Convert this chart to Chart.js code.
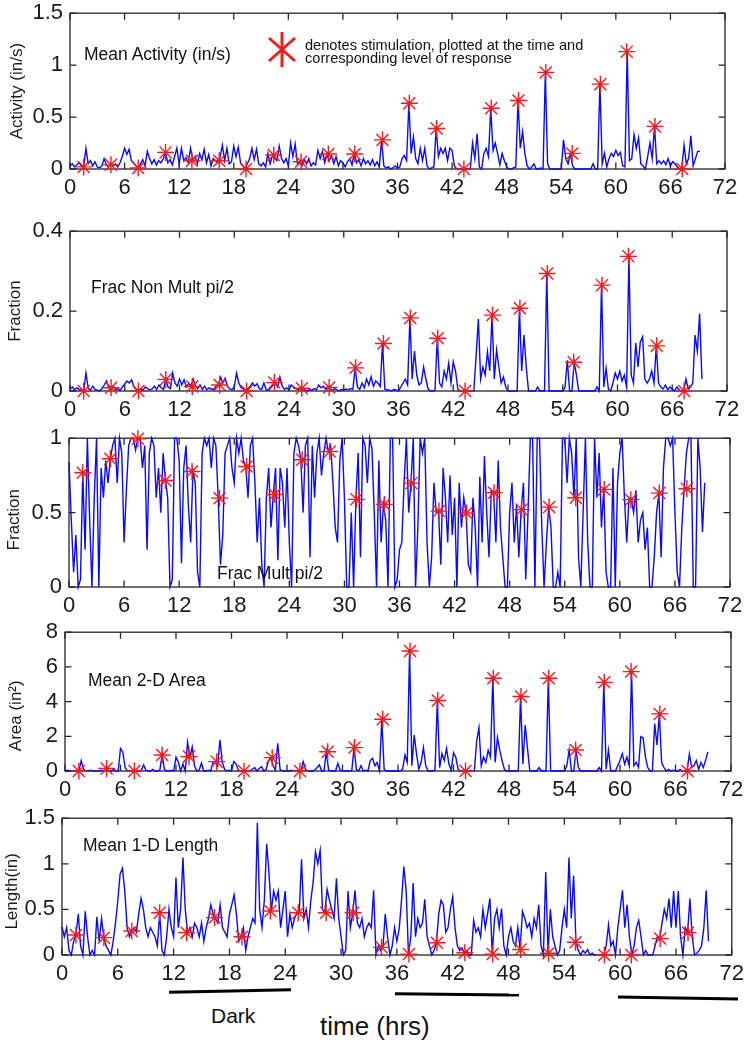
<!DOCTYPE html>
<html>
<head>
<meta charset="utf-8">
<title>Response to stimulation over time</title>
<script src="https://cdn.jsdelivr.net/npm/chart.js@4.4.1/dist/chart.umd.min.js"></script>
<style>
  html, body { margin:0; padding:0; background:#fff; }
  #wrap { position:relative; width:750px; height:1043px; overflow:hidden; background:#fff;
          font-family:'Liberation Sans', Arial, Helvetica, sans-serif; color:#111; }
  #wrap canvas { position:absolute; left:0; z-index:1; }
  .note { position:absolute; white-space:nowrap; line-height:1; z-index:2; }
  #over { position:absolute; left:0; top:0; z-index:3; }
</style>
</head>
<body>
<div id="wrap">
  <div class="note" style="left:84px;top:45.5px;font-size:17.5px;">Mean Activity (in/s)</div>
  <div class="note" style="left:305px;top:38.5px;font-size:14.6px;line-height:13.5px;">denotes stimulation, plotted at the time and<br>corresponding level of response</div>
  <div class="note" style="left:91px;top:279px;font-size:17.5px;">Frac Non Mult pi/2</div>
  <div class="note" style="left:217px;top:565px;font-size:17.5px;">Frac Mult pi/2</div>
  <div class="note" style="left:88px;top:672px;font-size:17.5px;">Mean 2-D Area</div>
  <div class="note" style="left:83px;top:837px;font-size:17.5px;">Mean 1-D Length</div>
  <div class="note" style="left:211px;top:1005px;font-size:21px;">Dark</div>
  <div class="note" style="left:320px;top:1012.5px;font-size:26px;">time (hrs)</div>
  <svg id="over" width="750" height="1043">
    <g stroke="#f21c1c" stroke-width="3">
      <line x1="282" y1="32" x2="282" y2="67"/>
      <line x1="269" y1="38" x2="295" y2="61"/>
      <line x1="269" y1="61" x2="295" y2="38"/>
    </g>
    <g stroke="#000" stroke-width="3">
      <line x1="169" y1="992.3" x2="291" y2="989.7"/>
      <line x1="395" y1="993.7" x2="519" y2="995"/>
      <line x1="618" y1="997" x2="738" y2="999"/>
    </g>
  </svg>
</div>
<script>
// ---------------- DATA ----------------
const hoursPerSample = 0.25;           // sampling interval of the recorded series
const xMax = 72, xTickStep = 6;        // time axis (hrs)

// times of stimulation (hrs)
const stimTimes = [1.5, 4.5, 7.5, 10.5, 13.4, 16.4, 19.35, 22.4, 25.4, 28.4, 31.3, 34.35,
                   37.3, 40.3, 43.3, 46.3, 49.3, 52.3, 55.2, 58.3, 61.2, 64.3, 67.3];

// response level at each stimulation
const stimActivity    = [0.02, 0.04, 0.01, 0.16, 0.08, 0.08, 0.0, 0.135, 0.07, 0.145, 0.145, 0.28,
                         0.633, 0.39, 0.0, 0.585, 0.66, 0.93, 0.15, 0.817, 1.13, 0.41, 0.0];
const stimFracNonMult = [0, 0.008, 0, 0.029, 0.011, 0.015, 0, 0.021, 0.007, 0.009, 0.058, 0.119,
                         0.183, 0.132, 0.0, 0.19, 0.207, 0.294, 0.072, 0.265, 0.337, 0.113, 0];
const stimFracMult    = [0.768, 0.862, 0.996, 0.716, 0.776, 0.597, 0.81, 0.622, 0.855, 0.911, 0.589, 0.555,
                         0.698, 0.51, 0.497, 0.634, 0.52, 0.537, 0.6, 0.656, 0.587, 0.631, 0.66];
const stimArea        = [0, 0.15, 0, 0.92, 0.83, 0.54, 0, 0.77, 0, 1.11, 1.35, 2.98,
                         6.92, 4.06, 0, 5.35, 4.29, 5.35, 1.21, 5.11, 5.73, 3.29, 0];
const stimLength      = [0.22, 0.19, 0.263, 0.464, 0.245, 0.41, 0.2, 0.483, 0.464, 0.464, 0.464, 0.084,
                         0.01, 0.135, 0.025, 0.01, 0.06, 0.02, 0.14, 0.0, 0.0, 0.18, 0.245];

// Mean Activity (in/s), one value every 15 min from t = 0
const activity = [
 0.03,0.05,0.02,0.04, 0.06,0.03,0.02,0.20, 0.05,0.08,0.03,0.07, 0.02,0.01,0.03,0.10,
 0.04,0.02,0.04,0.03, 0.05,0.02,0.06,0.12, 0.20,0.14,0.19,0.08, 0.06,0.03,0.01,0.05,
 0.09,0.03,0.17,0.10, 0.05,0.09,0.04,0.08, 0.06,0.10,0.16,0.06, 0.09,0.04,0.12,0.20,
 0.05,0.20,0.08,0.11, 0.06,0.20,0.08,0.12, 0.05,0.15,0.09,0.19, 0.06,0.14,0.03,0.10,
 0.08,0.06,0.12,0.23, 0.08,0.20,0.05,0.07, 0.22,0.12,0.21,0.06, 0.03,0.00,0.05,0.10,
 0.20,0.09,0.19,0.05, 0.03,0.06,0.02,0.15, 0.05,0.13,0.10,0.08, 0.22,0.10,0.06,0.10,
 0.03,0.25,0.12,0.24, 0.05,0.07,0.03,0.09, 0.05,0.10,0.03,0.06, 0.04,0.18,0.10,0.17,
 0.06,0.14,0.08,0.13, 0.05,0.12,0.03,0.08, 0.06,0.02,0.07,0.10, 0.04,0.15,0.06,0.09,
 0.03,0.10,0.05,0.08, 0.04,0.09,0.03,0.07, 0.02,0.28,0.03,0.01, 0.02,0.00,0.01,0.03,
 0.01,0.02,0.10,0.13, 0.08,0.63,0.15,0.31, 0.10,0.05,0.20,0.08, 0.20,0.03,0.00,0.01,
 0.02,0.39,0.12,0.20, 0.15,0.20,0.08,0.20, 0.18,0.03,0.00,0.00, 0.00,0.00,0.00,0.00,
 0.00,0.25,0.10,0.34, 0.02,0.00,0.15,0.20, 0.12,0.58,0.18,0.25, 0.15,0.04,0.15,0.08,
 0.02,0.00,0.00,0.01, 0.02,0.66,0.20,0.36, 0.15,0.03,0.00,0.02, 0.05,0.00,0.00,0.01,
 0.00,0.93,0.05,0.00, 0.00,0.00,0.00,0.00, 0.00,0.28,0.10,0.05, 0.15,0.03,0.00,0.00,
 0.00,0.00,0.00,0.00, 0.00,0.00,0.05,0.00, 0.00,0.82,0.05,0.15, 0.02,0.10,0.15,0.12,
 0.18,0.13,0.16,0.03, 0.02,1.13,0.08,0.10, 0.33,0.20,0.30,0.05, 0.03,0.00,0.12,0.25,
 0.10,0.41,0.05,0.08, 0.05,0.08,0.04,0.10, 0.03,0.07,0.05,0.02, 0.00,0.00,0.23,0.05,
 0.10,0.32,0.03,0.10, 0.17,0.17
];

// Frac Non Mult pi/2
const fracNonMult = [
 0.005,0.01,0.003,0.008, 0.004,0.002,0.0,0.045, 0.006,0.003,0.012,0.004, 0.002,0.0,0.006,0.015,
 0.025,0.008,0.004,0.012, 0.003,0.006,0.002,0.01, 0.018,0.025,0.02,0.028, 0.01,0.004,0.0,0.005,
 0.002,0.01,0.006,0.003, 0.005,0.012,0.004,0.015, 0.008,0.004,0.029,0.01, 0.006,0.045,0.02,0.012,
 0.03,0.015,0.028,0.01, 0.018,0.011,0.03,0.012, 0.006,0.015,0.004,0.012, 0.003,0.008,0.005,0.004,
 0.012,0.015,0.035,0.02, 0.032,0.012,0.005,0.003, 0.01,0.045,0.02,0.008, 0.005,0.0,0.006,0.012,
 0.02,0.012,0.018,0.006, 0.004,0.02,0.003,0.002, 0.008,0.015,0.021,0.01, 0.035,0.012,0.004,0.008,
 0.003,0.015,0.01,0.006, 0.004,0.007,0.002,0.003, 0.0,0.004,0.002,0.006, 0.003,0.015,0.008,0.012,
 0.005,0.009,0.004,0.002, 0.006,0.003,0.0,0.004, 0.002,0.005,0.003,0.006, 0.004,0.058,0.01,0.004,
 0.02,0.008,0.03,0.015, 0.036,0.012,0.025,0.02, 0.011,0.119,0.005,0.003, 0.002,0.0,0.004,0.002,
 0.0,0.01,0.02,0.03, 0.015,0.183,0.03,0.1, 0.04,0.015,0.02,0.06, 0.03,0.005,0.0,0.0,
 0.002,0.132,0.02,0.01, 0.05,0.03,0.069,0.02, 0.073,0.05,0.005,0.0, 0.0,0.0,0.0,0.0,
 0.0,0.0,0.085,0.18, 0.03,0.06,0.04,0.098, 0.05,0.19,0.03,0.103, 0.06,0.02,0.035,0.01,
 0.0,0.0,0.0,0.0, 0.0,0.207,0.05,0.14, 0.06,0.0,0.0,0.0, 0.0,0.01,0.0,0.0,
 0.0,0.294,0.0,0.0, 0.0,0.0,0.0,0.0, 0.0,0.01,0.077,0.0, 0.0,0.072,0.04,0.0,
 0.0,0.0,0.0,0.0, 0.0,0.0,0.0,0.01, 0.0,0.265,0.01,0.057, 0.005,0.0,0.02,0.045,
 0.03,0.05,0.025,0.04, 0.01,0.337,0.04,0.02, 0.12,0.06,0.123,0.136, 0.03,0.02,0.03,0.05,
 0.02,0.113,0.02,0.01, 0.005,0.015,0.003,0.01, 0.005,0.0,0.01,0.003, 0.0,0.0,0.03,0.005,
 0.01,0.02,0.14,0.1, 0.194,0.03
];

// Frac Mult pi/2
const fracMult = [
 0.84,0.45,0.10,0.35, 0.0,0.05,0.77,0.25, 1.0,0.45,0.0,0.6, 1.0,0.0,0.8,0.6,
 0.85,0.7,0.86,0.95, 1.0,0.7,1.0,0.9, 0.3,0.65,0.95,1.0, 1.0,0.92,1.0,1.0,
 0.8,0.95,0.25,0.9, 1.0,0.95,0.6,0.8, 0.5,0.9,0.72,0.6, 0.0,0.05,1.0,1.0,
 0.85,0.16,0.8,0.95, 0.55,0.3,0.78,0.7, 0.1,0.0,0.9,1.0, 0.95,1.0,0.8,1.0,
 0.95,0.6,0.15,0.35, 0.9,0.95,1.0,0.8, 0.7,1.0,0.9,1.0, 0.85,0.81,0.6,0.95,
 1.0,0.7,0.3,0.6, 0.15,0.0,0.6,0.8, 0.4,0.62,0.8,0.18, 0.8,0.7,0.4,0.8,
 0.3,0.0,0.9,1.0, 0.95,0.86,0.5,0.95, 1.0,0.2,0.95,0.6, 0.9,1.0,0.75,0.9,
 1.0,0.91,0.95,0.7, 0.4,0.3,0.85,1.0, 0.6,0.0,0.0,0.5, 0.0,0.59,0.9,0.2,
 1.0,0.95,0.7,1.0, 0.93,0.5,0.0,0.85, 0.3,0.555,0.45,0.0, 1.0,1.0,0.0,0.05,
 0.25,0.3,0.7,1.0, 0.5,0.7,1.0,0.0, 0.4,1.0,0.9,1.0, 0.3,0.0,0.2,0.7,
 0.5,0.51,0.15,0.8, 0.6,0.3,0.75,0.35, 0.6,0.0,0.7,0.4, 0.6,0.5,0.15,0.1,
 0.6,0.4,0.0,0.74, 0.3,0.88,0.5,0.2, 0.65,0.63,0.3,0.85, 0.4,0.2,0.0,0.0,
 0.5,0.7,0.3,0.55, 0.2,0.52,0.7,0.05, 0.5,1.0,1.0,0.0, 1.0,1.0,0.4,0.0,
 0.3,0.54,0.4,0.0, 0.0,0.1,0.0,1.0, 1.0,0.7,1.0,0.9, 0.6,1.0,0.2,0.0,
 0.5,1.0,0.3,0.0, 0.0,1.0,0.6,0.9, 0.4,0.66,0.1,0.0, 0.0,0.8,0.0,0.7,
 0.9,1.0,0.6,0.3, 0.6,0.59,0.5,0.65, 0.3,0.45,0.5,0.25, 0.4,0.0,0.0,0.2,
 0.5,0.63,0.2,0.8, 1.0,1.0,0.95,1.0, 0.5,0.1,0.0,0.4, 0.66,0.9,1.0,1.0,
 0.0,0.0,1.0,0.8, 0.37,0.7
];

// Mean 2-D Area (in^2)
const area2D = [
 0.0,0.05,0.0,0.02, 0.0,0.0,0.0,0.6, 0.1,0.0,0.0,0.05, 0.0,0.0,0.0,0.0,
 0.05,0.0,0.15,0.0, 0.0,0.1,0.0,0.0, 1.3,1.1,0.2,0.0, 0.0,0.0,0.0,0.0,
 0.0,0.05,0.35,0.05, 0.0,0.0,0.1,0.0, 0.0,0.05,0.92,0.1, 0.0,0.0,0.05,0.0,
 0.8,0.5,0.0,0.4, 0.0,1.66,0.8,1.38, 0.3,0.0,0.05,0.45, 0.0,0.0,0.05,0.0,
 0.5,0.54,0.3,1.79, 0.5,0.1,0.0,0.05, 0.0,0.55,0.4,0.05, 0.0,0.0,0.0,0.0,
 0.0,0.1,0.2,0.0, 0.15,0.25,0.0,0.1, 0.6,0.77,0.3,0.05, 1.6,0.1,0.0,0.0,
 0.0,0.0,0.05,0.0, 0.0,0.0,0.0,0.54, 0.1,0.0,0.0,0.0, 0.05,0.2,0.35,0.0,
 0.0,1.11,0.05,0.0, 0.0,0.0,0.44,0.05, 0.0,0.0,0.0,0.0, 0.0,1.35,0.1,0.0,
 0.3,0.0,0.05,0.0, 0.6,0.73,0.3,0.5, 0.0,2.98,0.1,0.0, 0.0,0.0,0.0,0.0,
 0.0,0.0,0.1,0.92, 0.5,6.92,0.3,2.07, 1.0,0.1,0.5,1.34, 0.3,0.0,0.0,0.0,
 0.05,4.06,0.2,1.0, 0.6,1.3,0.4,0.05, 1.05,0.8,0.1,0.0, 0.0,0.0,0.0,0.0,
 0.0,0.0,1.7,2.5, 0.3,0.8,0.5,1.2, 0.8,5.35,0.5,1.92, 1.2,0.6,0.1,0.0,
 0.0,0.0,0.0,0.0, 0.0,4.29,0.4,2.65, 1.3,0.0,0.0,0.0, 0.0,0.2,0.0,0.0,
 0.0,5.35,0.0,0.0, 0.0,0.0,0.0,0.0, 0.0,0.3,1.2,0.0, 0.0,1.21,0.2,0.0,
 0.0,0.0,0.0,0.0, 0.0,0.0,0.0,0.2, 0.0,5.11,0.1,1.2, 0.0,0.0,0.0,0.3,
 0.6,1.0,0.4,0.8, 0.3,5.73,0.3,0.5, 0.2,1.98,1.9,0.8, 0.2,0.0,0.0,2.74,
 1.5,3.29,0.5,0.2, 0.0,0.1,0.0,0.05, 0.0,0.0,0.1,0.0, 0.0,0.0,0.98,0.2,
 0.3,0.6,0.1,0.5, 0.2,0.6,1.1
];

// Mean 1-D Length (in)
const length1D = [
 0.31,0.2,0.3,0.05, 0.0,0.15,0.22,0.45, 0.1,0.0,0.48,0.2, 0.0,0.05,0.0,0.42,
 0.15,0.4,0.19,0.1, 0.05,0.0,0.15,0.35, 0.6,0.89,0.95,0.7, 0.3,0.2,0.26,0.3,
 0.25,0.45,0.62,0.5, 0.3,0.2,0.3,0.25, 0.2,0.1,0.46,0.05, 0.0,0.2,0.5,0.3,
 0.2,0.85,0.3,0.5, 1.07,0.5,0.24,0.3, 0.2,0.35,0.3,0.2, 0.35,0.15,0.3,0.4,
 0.55,0.45,0.4,0.35, 0.55,0.3,0.25,0.2, 0.45,0.55,0.66,0.45, 0.15,0.2,0.3,0.05,
 0.2,0.3,0.4,0.35, 1.45,0.5,0.3,0.6, 1.22,0.9,0.48,0.7, 0.6,0.7,0.3,0.5,
 0.7,0.2,0.45,0.3, 0.4,0.46,0.46,1.05, 0.4,0.5,0.3,0.6, 0.8,1.13,1.0,1.15,
 0.5,0.46,0.72,0.6, 0.5,0.4,0.84,0.4, 0.2,0.0,0.05,0.7, 0.3,0.46,0.71,0.35,
 0.3,0.4,0.2,0.3, 0.35,0.3,0.71,0.0, 0.1,0.05,0.08,0.45, 0.2,0.0,0.1,0.3,
 0.15,0.29,0.6,0.97, 0.7,0.0,0.2,0.79, 0.2,0.4,0.3,0.35, 0.61,0.2,0.1,0.0,
 0.05,0.14,0.45,0.6, 0.55,0.25,0.3,0.5, 0.64,0.3,0.1,0.05, 0.08,0.02,0.05,0.0,
 0.0,0.38,0.25,0.3, 0.2,0.5,0.3,0.45, 0.62,0.01,0.4,0.5, 0.3,0.51,0.1,0.0,
 0.2,0.3,0.15,0.1, 0.3,0.06,0.48,0.4, 0.3,0.35,0.2,0.4, 0.3,0.55,0.1,0.0,
 0.91,0.02,0.5,0.2, 0.1,0.0,0.05,0.3, 0.5,0.3,1.07,0.4, 0.87,0.14,0.05,0.0,
 0.05,0.02,0.06,0.0, 0.02,0.0,0.0,0.0, 0.0,0.0,0.1,0.33, 0.1,0.15,0.0,0.3,
 0.5,0.71,0.3,0.55, 0.2,0.0,0.1,0.3, 0.38,0.2,0.0,0.05, 0.0,0.0,0.0,0.1,
 0.2,0.18,0.35,0.5, 0.4,0.62,0.3,0.7, 0.3,0.7,0.2,0.0, 0.3,0.245,0.62,0.2,
 0.0,0.02,0.05,0.1, 0.3,0.71,0.15
];

// ---------------- LAYOUT ----------------
const FONT = "'Liberation Sans', Arial, Helvetica, sans-serif";
const BLUE = 'rgb(10,10,245)';
const RED = 'rgb(242,28,28)';
const INK = '#1a1a1a';
const PAD_TOP = 20, AX_H = 45;

const panels = [
  {L:70, R:725, T:13,  B:169, ymax:1.5, step:0.5, title:'Activity (in/s)', tx:17,   series:activity,    stars:stimActivity},
  {L:70, R:727, T:231, B:391, ymax:0.4, step:0.2, title:'Fraction',        tx:15,   series:fracNonMult, stars:stimFracNonMult},
  {L:69, R:730, T:438, B:587, ymax:1,   step:0.5, title:'Fraction   ',     tx:14.2, series:fracMult,    stars:stimFracMult},
  {L:65, R:731, T:632, B:771, ymax:8,   step:2,   title:'Area (in\u00B2)      ', tx:16.7, series:area2D, stars:stimArea},
  {L:62, R:735, T:818, B:955, ymax:1.5, step:0.5, title:'Length(in)  ',    tx:12.5, series:length1D,    stars:stimLength}
];

Chart.defaults.font.family = FONT;

const plainNumber = v => String(Number(Number(v).toFixed(3)));

const boxPlugin = {
  id: 'matlabBox',
  beforeDatasetsDraw(chart) {
    const {ctx, chartArea: a, scales: {x, y}} = chart;
    ctx.save();
    ctx.strokeStyle = '#262626';
    ctx.lineWidth = 1.3;
    ctx.strokeRect(a.left, a.top, a.right - a.left, a.bottom - a.top);
    const tl = 6.5;
    ctx.beginPath();
    x.ticks.forEach(t => {
      const px = x.getPixelForValue(t.value);
      ctx.moveTo(px, a.bottom); ctx.lineTo(px, a.bottom - tl);
      ctx.moveTo(px, a.top);    ctx.lineTo(px, a.top + tl);
    });
    y.ticks.forEach(t => {
      const py = y.getPixelForValue(t.value);
      ctx.moveTo(a.left, py);  ctx.lineTo(a.left + tl, py);
      ctx.moveTo(a.right, py); ctx.lineTo(a.right - tl, py);
    });
    ctx.stroke();
    ctx.restore();
  }
};

const wrap = document.getElementById('wrap');

panels.forEach(p => {
  const canvas = document.createElement('canvas');
  const H = (p.B - p.T) + PAD_TOP + AX_H;
  canvas.width = 750; canvas.height = H;
  canvas.style.width = '750px'; canvas.style.height = H + 'px';
  canvas.style.top = (p.T - PAD_TOP) + 'px';
  wrap.insertBefore(canvas, wrap.firstChild);

  const lineData = p.series.map((v, i) => ({x: i * hoursPerSample, y: v}));
  const starData = stimTimes.map((t, i) => ({x: t, y: p.stars[i]}));

  new Chart(canvas, {
    type: 'line',
    data: {
      datasets: [
        {type: 'scatter', data: starData, showLine: false, pointStyle: 'star', pointRadius: 8.5,
         pointBorderWidth: 1.4, borderColor: RED, backgroundColor: RED, pointBorderColor: RED, clip: false},
        {type: 'line', data: lineData, borderColor: BLUE, borderWidth: 1.4, pointRadius: 0,
         tension: 0, fill: false, clip: false}
      ]
    },
    options: {
      responsive: false, animation: false, devicePixelRatio: 1, events: [],
      layout: {padding: {top: PAD_TOP, right: 750 - p.R, left: 0, bottom: 0}},
      plugins: {legend: {display: false}, tooltip: {enabled: false}},
      scales: {
        x: {
          type: 'linear', min: 0, max: xMax,
          ticks: {stepSize: xTickStep, padding: 6, autoSkip: false, maxRotation: 0,
                  font: {size: 22}, color: INK, callback: plainNumber},
          grid: {display: false, drawTicks: false}, border: {display: false},
          afterFit(s) { s.height = AX_H; }
        },
        y: {
          type: 'linear', min: 0, max: p.ymax,
          ticks: {stepSize: p.step, padding: 7, font: {size: 22}, color: INK, callback: plainNumber},
          grid: {display: false, drawTicks: false}, border: {display: false},
          title: {display: true, text: p.title, color: INK, font: {size: 17},
                  padding: {top: p.tx - 10.2, bottom: 0}},
          afterFit(s) { s.width = p.L; }
        }
      }
    },
    plugins: [boxPlugin]
  });
});
</script>
</body>
</html>
